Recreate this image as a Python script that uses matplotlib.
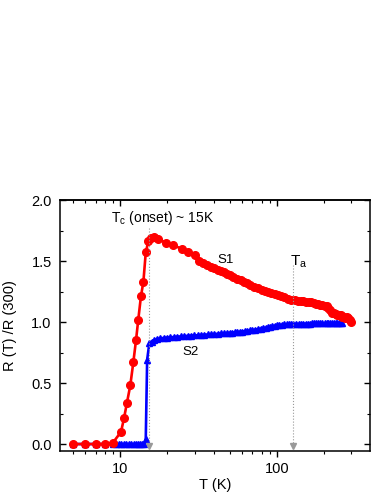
import matplotlib
matplotlib.use("Agg")
import matplotlib.pyplot as plt
from matplotlib.ticker import LogLocator, MultipleLocator, NullFormatter, FixedLocator, FixedFormatter

plt.rcParams["font.family"] = ["Liberation Sans", "DejaVu Sans"]
plt.rcParams["mathtext.fontset"] = "custom"
plt.rcParams["mathtext.rm"] = "Liberation Sans"
plt.rcParams["mathtext.it"] = "Liberation Sans"

# S1 (red circles)
t_s1 = [5, 6, 7, 8, 9, 10.15, 10.6, 11.08, 11.63, 12.16, 12.65, 13.08, 13.6, 14.1, 14.6,
        15.15, 15.7, 16.5, 17.6, 19.6, 21.9, 24.7, 27.3, 30.1, 32, 34, 36, 38, 40, 42, 44,
        46, 48, 50, 53, 56, 59, 62, 65, 68, 72, 76, 80, 84, 88, 92, 97, 102, 107, 112, 118,
        124, 130, 136, 142, 148, 154, 160, 166, 172, 178, 184, 190, 196, 202, 208, 214, 220,
        226, 232, 238, 244, 250, 256, 262, 268, 274, 280, 286, 292, 298]
r_s1 = [0.0, 0.0, 0.0, 0.0, 0.01, 0.10, 0.21, 0.34, 0.48, 0.67, 0.85, 1.02, 1.21, 1.33, 1.57,
        1.66, 1.69, 1.70, 1.68, 1.65, 1.63, 1.60, 1.57, 1.55, 1.50, 1.485, 1.47, 1.455, 1.442,
        1.43, 1.418, 1.406, 1.395, 1.385, 1.37, 1.356, 1.342, 1.33, 1.317, 1.305, 1.291, 1.277,
        1.263, 1.254, 1.245, 1.237, 1.228, 1.218, 1.21, 1.202, 1.192, 1.184, 1.178, 1.175,
        1.172, 1.17, 1.168, 1.165, 1.163, 1.158, 1.15, 1.145, 1.142, 1.138, 1.135, 1.13, 1.115,
        1.095, 1.075, 1.07, 1.065, 1.06, 1.058, 1.055, 1.045, 1.038, 1.035, 1.04, 1.03, 1.015,
        1.0]

# S2 (blue triangles)
t_s2 = [5, 6, 7, 8, 9, 9.4, 9.8, 10.2, 10.6, 11.0, 11.4, 11.8, 12.2, 12.6, 13.0, 13.4, 13.8,
        14.2, 14.6, 14.9, 15.4, 15.9, 16.5, 17.1, 18.0, 19.0, 20.0, 21.0, 22.0, 23.2, 24.4,
        25.6, 27.0, 28.4, 29.8, 31.3, 33, 34.6, 36.4, 38.2, 40, 42, 44, 46, 48, 50, 52, 54, 56,
        58, 60, 62.5, 65, 67.5, 70, 73, 76, 79, 82, 85, 88, 91, 94, 97, 100, 104, 108, 112,
        116, 120, 124, 128, 133, 138, 143, 148, 153, 158, 163, 168, 173, 178, 184, 190, 196,
        202, 208, 214, 220, 226, 232, 238, 244, 250, 256, 260]
r_s2 = [0.0, 0.0, 0.0, 0.0, 0.0, 0.0, 0.0, 0.0, 0.0, 0.0, 0.0, 0.0, 0.0, 0.0, 0.0, 0.0, 0.0,
        0.0, 0.04, 0.69, 0.83, 0.84, 0.85, 0.86, 0.865, 0.87, 0.872, 0.875, 0.877, 0.88, 0.882,
        0.885, 0.887, 0.889, 0.89, 0.892, 0.894, 0.896, 0.898, 0.90, 0.902, 0.904, 0.906,
        0.908, 0.91, 0.912, 0.914, 0.916, 0.918, 0.92, 0.922, 0.925, 0.928, 0.931, 0.934,
        0.938, 0.942, 0.946, 0.95, 0.954, 0.958, 0.962, 0.966, 0.97, 0.973, 0.976, 0.978,
        0.98, 0.981, 0.982, 0.983, 0.984, 0.985, 0.985, 0.986, 0.986, 0.987, 0.987, 0.987,
        0.988, 0.988, 0.988, 0.988, 0.988, 0.989, 0.989, 0.989, 0.989, 0.989, 0.99, 0.99,
        0.99, 0.99, 0.99, 0.99, 0.99]

t_onset = 15.2
t_a = 127

fig = plt.figure(figsize=(3.82, 4.94), dpi=100)
ax = fig.add_axes([60 / 382, 1 - 451 / 494, 310 / 382, 251 / 494])

ax.plot(t_s1, r_s1, color="#ff0000", marker="o", markersize=5.5, lw=1.9, zorder=3)
ax.plot(t_s2, r_s2, color="#0000ff", marker="^", markersize=5, lw=1.9, zorder=2)

# dotted guide lines with arrow heads
for tx, ytop in [(t_onset, 1.77), (t_a, 1.47)]:
    ax.plot([tx, tx], [ytop, -0.01], color="#999999", lw=0.8, ls=":", zorder=4)
    ax.plot([tx], [-0.012], color="#999999", marker="v", markersize=4, zorder=4)

ax.text(8.76, 1.82, r"T$_\mathrm{c}$ (onset) ~ 15K", fontsize=10, ha="left", va="baseline")
ax.text(47.4, 1.51, "S1", fontsize=9.5, ha="center", va="center")
ax.text(28, 0.755, "S2", fontsize=9.5, ha="center", va="center")
ax.text(121, 1.46, r"T$_\mathrm{a}$", fontsize=11, ha="left", va="baseline")

ax.set_xscale("log")
ax.set_xlim(4.14, 394)
ax.set_ylim(-0.057, 2.0)

ax.xaxis.set_major_locator(FixedLocator([10, 100]))
ax.xaxis.set_major_formatter(FixedFormatter(["10", "100"]))
ax.xaxis.set_minor_locator(LogLocator(base=10, subs=range(2, 10)))
ax.xaxis.set_minor_formatter(NullFormatter())
ax.yaxis.set_major_locator(MultipleLocator(0.5))
ax.yaxis.set_minor_locator(MultipleLocator(0.25))
ax.yaxis.set_major_formatter(matplotlib.ticker.FormatStrFormatter("%.1f"))

ax.tick_params(axis="x", which="both", direction="out", top=False, labelsize=10.5, pad=4)
ax.tick_params(axis="y", which="both", direction="in", right=True, labelsize=10.5, pad=6)
ax.tick_params(which="major", length=4, width=1)
ax.tick_params(which="minor", length=2.5, width=0.8)

# top axis ticks pointing inward
sec = ax.secondary_xaxis("top")
sec.xaxis.set_major_locator(FixedLocator([10, 100]))
sec.xaxis.set_minor_locator(LogLocator(base=10, subs=range(2, 10)))
sec.xaxis.set_major_formatter(NullFormatter())
sec.xaxis.set_minor_formatter(NullFormatter())
sec.tick_params(which="both", direction="in")
sec.tick_params(which="major", length=4, width=1)
sec.tick_params(which="minor", length=2.5, width=0.8)

for s in ax.spines.values():
    s.set_linewidth(1.1)
sec.spines["top"].set_linewidth(1.1)

ax.set_xlabel("T (K)", fontsize=10.5, labelpad=1)
ax.set_ylabel("R (T) /R (300)", fontsize=10.5, labelpad=10)

fig.savefig("out.png", dpi=100)
